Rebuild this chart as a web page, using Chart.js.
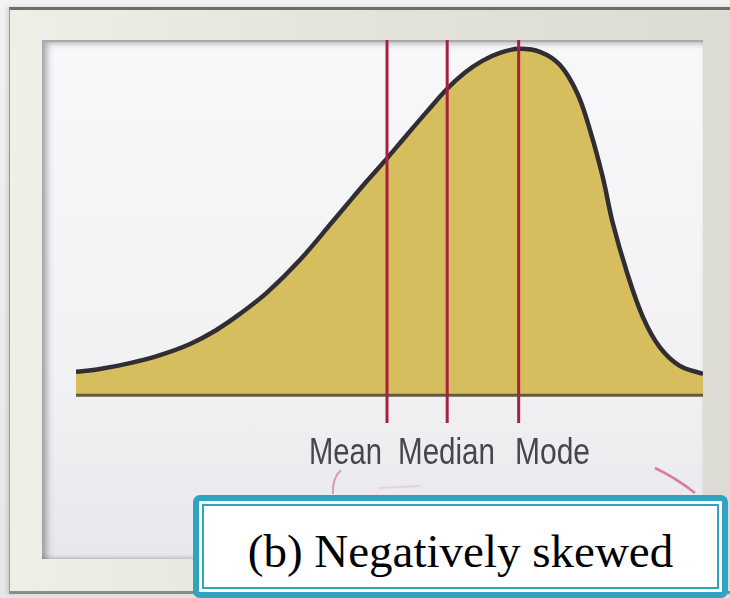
<!DOCTYPE html>
<html>
<head>
<meta charset="utf-8">
<script src="https://cdn.jsdelivr.net/npm/chart.js@4/dist/chart.umd.min.js"></script>
<style>
  html, body { margin: 0; padding: 0; }
  body { width: 730px; height: 598px; overflow: hidden; position: relative;
         background: linear-gradient(180deg, #f2f2f2 0%, #e6e6e6 100%); }
  .frame { position: absolute; left: 9px; top: 7px; width: 740px; height: 581px;
           border-top: 3px solid #6e6d68; border-left: 1px solid #9a9993;
           border-bottom: 3px solid #8d8c86;
           background: linear-gradient(90deg, #f0efe7 0%, #e6e5dd 40%, #dcdbd3 100%);
           box-shadow: -2px 0 4px rgba(0,0,0,0.12); }
  .paper { position: absolute; left: 42px; top: 40px; width: 661px; height: 517px;
           background: linear-gradient(180deg, #f8f8fa 0%, #f2f2f5 60%, #e8e8ec 100%);
           border-top: 2px solid #a9a9ae;
           box-shadow: inset 7px 3px 6px -2px rgba(70,70,80,0.45), inset 0 -3px 4px -2px rgba(70,70,80,0.35); }
  #chart { position: absolute; left: 0; top: 0; }
  .marks { position: absolute; left: 0; top: 0; }
  .caption { position: absolute; left: 193px; top: 495px; width: 523px; height: 91px;
             border: 6px solid #2fa3c0; border-radius: 7px; background: #ffffff; }
  .caption .inner { position: absolute; left: 3px; top: 3px; right: 3px; bottom: 3px;
             border: 2px solid #2fa3c0; background: #ffffff;
             font-family: "Liberation Serif", "Times New Roman", serif; font-size: 47px;
             color: #000; text-align: center; line-height: 1; }
  .caption .inner span { position: absolute; left: 0; right: 0; top: 22px; }
</style>
</head>
<body>
<div class="frame"></div>
<div class="paper"></div>
<canvas id="chart" width="730" height="598"></canvas>
<svg class="marks" width="730" height="598">
  <path d="M341 470 Q332 478 333 494" stroke="#d8839f" stroke-width="2" fill="none" opacity="0.8"/>
  <path d="M378 488 L420 486" stroke="#e3b5c5" stroke-width="2" fill="none" opacity="0.5"/>
  <path d="M655 468 Q676 478 695 493" stroke="#d46a92" stroke-width="2.5" fill="none" opacity="0.85"/>
</svg>
<div class="caption"><div class="inner"><span>(b) Negatively skewed</span></div></div>

<script>
// Frequency curve of a negatively skewed distribution (x and density on a 0–100 scale)
const curveX = [0, 3.8, 8.6, 13.4, 18.2, 22.2, 26.2, 30.5, 35.7, 41.0, 43.7, 46.4, 49.6, 52.8,
                56.0, 59.2, 62.0, 64.8, 67.6, 70.6, 74.0, 77.2, 80.0, 82.0, 84.0, 85.6, 87.9,
                90.4, 93.1, 96.3, 100];
const curveY = [6.7, 7.5, 9.2, 11.5, 14.7, 18.5, 23.4, 29.5, 38.8, 50.0, 55.8, 61.5, 68.0, 74.8,
                81.5, 88.0, 92.6, 96.0, 98.3, 99.5, 98.6, 94.8, 86.5, 76.0, 62.7, 49.5, 35.1,
                22.5, 13.8, 8.4, 6.1];

// Measures of central tendency
const measureNames = ['Mean', 'Median', 'Mode'];
const measureX = [49.6, 59.2, 70.6];

const X_MIN = 0, X_MAX = 100, Y_MIN = -8, Y_MAX = 102;

const curvePoints = curveX.map((x, i) => ({ x, y: curveY[i] }));

const datasets = [
  {
    label: 'distribution',
    data: curvePoints,
    borderColor: '#302e34',
    borderWidth: 4.5,
    backgroundColor: '#d6bd5d',
    fill: 'origin',
    tension: 0.35,
    pointRadius: 0,
    order: 3
  },
  {
    label: 'baseline',
    data: [{ x: X_MIN, y: 0 }, { x: X_MAX, y: 0 }],
    borderColor: '#615b46',
    borderWidth: 3,
    pointRadius: 0,
    fill: false,
    order: 2
  }
];

measureX.forEach((mx, i) => {
  datasets.push({
    label: measureNames[i],
    data: [{ x: mx, y: Y_MIN }, { x: mx, y: Y_MAX }],
    borderColor: '#a8203f',
    borderWidth: 3,
    pointRadius: 0,
    fill: false,
    order: 0
  });
});

// Labels under the vertical lines, set in a horizontally condensed sans face
const labelWords = ['Mean', 'Median', 'Mode'];
const labelLeft = [309, 398, 515];
const labelWidth = [73, 97, 75];
const labelPlugin = {
  id: 'measureLabels',
  afterDraw(chart) {
    const ctx = chart.ctx;
    ctx.save();
    ctx.fillStyle = '#46464d';
    ctx.font = '36px "Liberation Sans", Arial, sans-serif';
    ctx.textBaseline = 'alphabetic';
    labelWords.forEach((w, i) => {
      const m = ctx.measureText(w).width;
      ctx.save();
      ctx.translate(labelLeft[i], 464);
      ctx.scale(labelWidth[i] / m, 1);
      ctx.fillText(w, 0, 0);
      ctx.restore();
    });
    ctx.restore();
  }
};

new Chart(document.getElementById('chart'), {
  type: 'line',
  data: { datasets },
  options: {
    responsive: false,
    animation: false,
    layout: { padding: { left: 76, right: 27, top: 40, bottom: 175 } },
    scales: {
      x: { type: 'linear', min: X_MIN, max: X_MAX, display: false },
      y: { type: 'linear', min: Y_MIN, max: Y_MAX, display: false }
    },
    plugins: { legend: { display: false }, tooltip: { enabled: false } },
    elements: { line: { capBezierPoints: true } }
  },
  plugins: [labelPlugin]
});
</script>
</body>
</html>
